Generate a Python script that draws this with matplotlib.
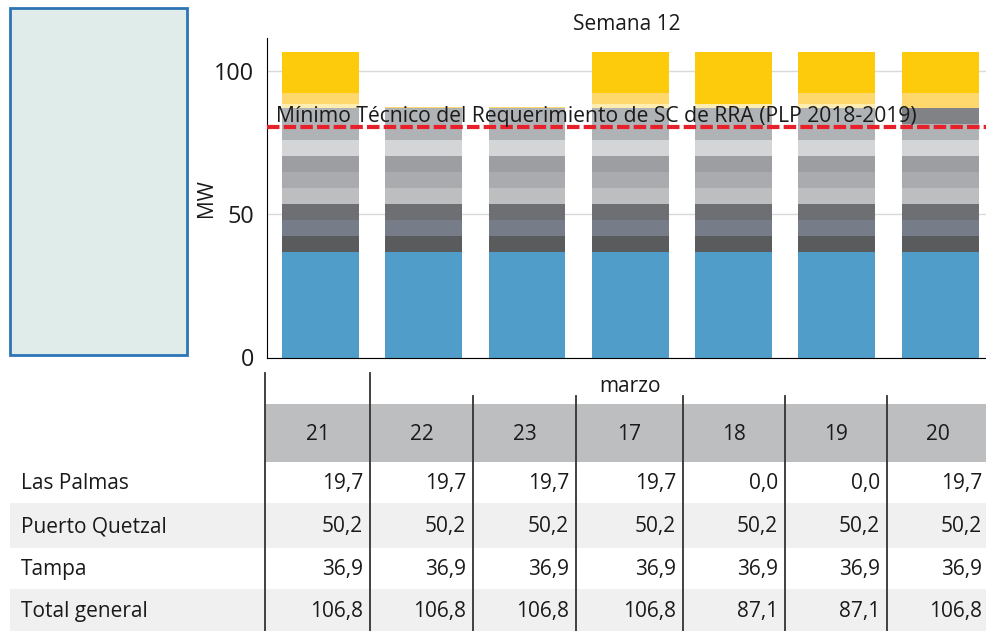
import matplotlib.pyplot as plt
from matplotlib.patches import Rectangle

plt.rcParams['font.family'] = ['Open Sans', 'DejaVu Sans']

# chart data (bars in date order 17..23)
bar_days = ["17", "18", "19", "20", "21", "22", "23"]
tampa_mw = [36.9, 36.9, 36.9, 36.9, 36.9, 36.9, 36.9]
gray_units = [
    [5.58, 5.58, 5.58, 5.58, 5.58, 5.58, 5.58],
    [5.58, 5.58, 5.58, 5.58, 5.58, 5.58, 5.58],
    [5.58, 5.58, 5.58, 5.58, 5.58, 5.58, 5.58],
    [5.58, 5.58, 5.58, 5.58, 5.58, 5.58, 5.58],
    [5.58, 5.58, 5.58, 5.58, 5.58, 5.58, 5.58],
    [5.58, 5.58, 5.58, 5.58, 5.58, 5.58, 5.58],
    [5.58, 5.58, 5.58, 5.58, 5.58, 5.58, 5.58],
    [5.58, 5.58, 5.58, 5.58, 5.58, 5.58, 5.58],
    [5.56, 5.56, 5.56, 5.56, 5.56, 5.56, 0.0],
    [0.0, 0.0, 0.0, 0.0, 0.0, 0.0, 5.56],
]
gray_colors = ["#5a5b5d", "#767d88", "#6e6f73", "#bdbec0", "#aaabae",
               "#9d9ea2", "#d4d5d7", "#b0b3b6", "#b0b3b6", "#808285"]
pale_yellow = [1.5, 0.0, 0.0, 1.5, 1.5, 1.5, 0.0]
light_yellow = [3.9, 0.5, 0.5, 3.9, 0.0, 3.9, 5.4]
yellow = [14.3, 0.0, 0.0, 14.3, 18.2, 14.3, 14.3]
min_tecnico = 80.5

# table data
table_days = ["21", "22", "23", "17", "18", "19", "20"]
row_names = ["Las Palmas", "Puerto Quetzal", "Tampa", "Total general"]
las_palmas = [19.7, 19.7, 19.7, 19.7, 0.0, 0.0, 19.7]
puerto_quetzal = [50.2, 50.2, 50.2, 50.2, 50.2, 50.2, 50.2]
tampa = [36.9, 36.9, 36.9, 36.9, 36.9, 36.9, 36.9]
total_general = [106.8, 106.8, 106.8, 106.8, 87.1, 87.1, 106.8]

W, H = 986, 631
fig = plt.figure(figsize=(W / 100, H / 100), dpi=100)

# empty legend box on the left
fig.add_artist(Rectangle((10 / W, 1 - 355 / H), 177 / W, 347 / H,
                         transform=fig.transFigure, facecolor="#dfecea",
                         edgecolor="#2e75b6", linewidth=2))

ax = fig.add_axes([267 / W, 1 - 357.5 / H, (W - 267) / W, 319.5 / H])
x = list(range(len(bar_days)))
bw = 0.745
bottom = [0.0] * len(x)

def stack(vals, color):
    global bottom
    ax.bar(x, vals, bw, bottom=bottom, color=color, zorder=2)
    bottom = [b + v for b, v in zip(bottom, vals)]

stack(tampa_mw, "#4f9dc8")
for vals, c in zip(gray_units, gray_colors):
    stack(vals, c)
stack(pale_yellow, "#feedb0")
stack(light_yellow, "#fed86c")
stack(yellow, "#fdcb0b")

ax.axhline(min_tecnico, color="#e8202a", linestyle=(0, (3, 1)), linewidth=3, zorder=4)
ax.text(-0.43, 82.2, "Mínimo Técnico del Requerimiento de SC de RRA (PLP 2018-2019)",
        fontsize=15.2, color="#1a1a1a", zorder=5)

ax.set_xlim(-0.518, 6.445)
ax.set_ylim(0, 111.7)
ax.set_yticks([0, 50, 100])
ax.yaxis.grid(True, color="#d9d9d9", linewidth=1, zorder=0)
ax.set_axisbelow(True)
ax.set_xticks([])
ax.tick_params(axis="y", length=0, pad=9, labelsize=16.8, labelcolor="#1a1a1a")
ax.spines["top"].set_visible(False)
ax.spines["right"].set_visible(False)
ax.spines["left"].set_color("black")
ax.spines["bottom"].set_color("black")
ax.set_ylabel("MW", fontsize=15, color="#1a1a1a")
ax.yaxis.set_label_coords(-0.069, 0.5)
ax.set_title("Semana 12", fontsize=15, color="#1a1a1a", pad=6)

# table below, in pixel coordinates
tx = fig.add_axes([0, 0, 1, (H - 365) / H])
tx.set_xlim(0, W)
tx.set_ylim(H, 365)
tx.axis("off")

col_edges = [265, 370, 473, 576, 683, 785, 887, 989]
row_tops = [462, 503, 548, 589, H]

tx.add_patch(Rectangle((265, 404), W - 265, 58, facecolor="#bdbec0", edgecolor="none"))
for i in range(len(row_names)):
    if i % 2 == 1:
        tx.add_patch(Rectangle((10, row_tops[i]), W - 10, row_tops[i + 1] - row_tops[i],
                               facecolor="#f0f0f0", edgecolor="none"))

tx.text(630, 386, "marzo", ha="center", va="center", fontsize=15, color="#1a1a1a")

for j, d in enumerate(table_days):
    cx = (col_edges[j] + col_edges[j + 1]) / 2
    tx.text(cx, 434, d, ha="center", va="center", fontsize=15, color="#1a1a1a")

for j, xe in enumerate(col_edges[:-1]):
    top = 373 if j < 2 else 396
    tx.plot([xe, xe], [top, H], color="#333333", linewidth=1.3)

rows = [las_palmas, puerto_quetzal, tampa, total_general]
for i, (name, vals) in enumerate(zip(row_names, rows)):
    cy = (row_tops[i] + row_tops[i + 1]) / 2 + 1
    tx.text(21, cy, name, ha="left", va="center", fontsize=15, color="#1a1a1a")
    for j, v in enumerate(vals):
        tx.text(col_edges[j + 1] - 7, cy, f"{v:.1f}".replace(".", ","),
                ha="right", va="center", fontsize=15, color="#1a1a1a")

plt.savefig("out.png", dpi=100)
